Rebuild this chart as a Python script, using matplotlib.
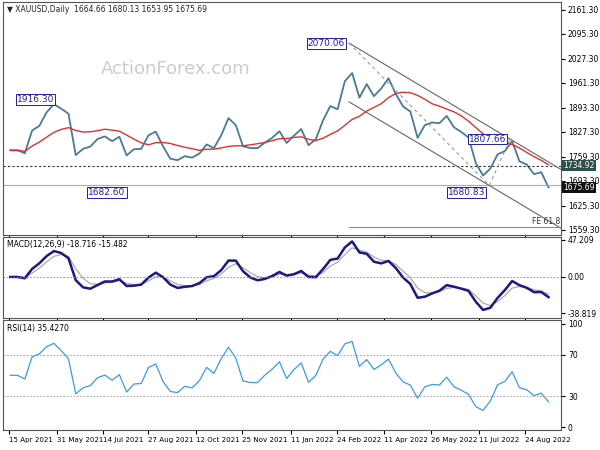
import matplotlib
matplotlib.use("Agg")
import matplotlib.pyplot as plt
import numpy as np
import pandas as pd

weeks = pd.date_range("2021-04-16", "2022-09-16", freq="W-FRI")
closes = [1777,1777,1769,1831,1844,1881,1903,1891,1877,1764,1781,1787,1808,1815,1802,1814,
          1763,1780,1781,1818,1828,1788,1754,1750,1761,1757,1768,1793,1783,1818,1865,1846,
          1788,1783,1783,1798,1811,1829,1797,1817,1835,1791,1807,1859,1898,1889,1966,1988,
          1921,1958,1925,1946,1974,1931,1897,1883,1811,1846,1853,1851,1871,1840,1827,1812,
          1742,1708,1727,1766,1775,1802,1747,1738,1712,1717,1675.69]
price_ticks = [2161.30,2095.30,2027.30,1961.30,1893.30,1827.30,1759.30,1693.30,1625.30,1559.30]
x_labels = ["15 Apr 2021","31 May 2021","14 Jul 2021","27 Aug 2021","12 Oct 2021","25 Nov 2021",
            "11 Jan 2022","24 Feb 2022","11 Apr 2022","26 May 2022","11 Jul 2022","24 Aug 2022"]
peaks = [("2021-06-01",1916.30),("2021-08-09",1682.60),("2022-03-08",2070.06),
         ("2022-07-21",1680.83),("2022-08-10",1807.66)]
level_res = 1734.92
fe618 = 1567.0

s = pd.Series(closes, index=weeks)
ma = s.rolling(11, min_periods=1).mean()
ema_f = s.ewm(span=12/5*1.6, adjust=False).mean()
ema_s = s.ewm(span=26/5*1.6, adjust=False).mean()
macd = ema_f - ema_s
sig = macd.ewm(span=9/5*1.6, adjust=False).mean()
d = s.diff().fillna(0).values
up_v, dn_v = 15.0, 15.0
rsi_vals = []
for x in d:
    up_v = up_v*5/6 + max(x, 0)/6
    dn_v = dn_v*5/6 + max(-x, 0)/6
    rsi_vals.append(100 - 100/(1 + up_v/dn_v))
rsi = pd.Series(rsi_vals, index=weeks)

FS = 5.5
fig = plt.figure(figsize=(6,4.5), dpi=100)
L, W = 0.005, 0.935
ax1 = fig.add_axes([L, 0.478, W-L, 0.518])
ax2 = fig.add_axes([L, 0.293, W-L, 0.180], sharex=ax1)
ax3 = fig.add_axes([L, 0.044, W-L, 0.244], sharex=ax1)
x0, x1 = pd.Timestamp("2021-04-09"), pd.Timestamp("2022-09-28")

ax1.plot(weeks, closes, color="#4a7a95", lw=1.3)
ax1.plot(weeks, ma, color="#e03030", lw=1)
ax1.axhline(level_res, color="#333333", ls=(0,(2,2)), lw=0.8)
ax1.axhline(1680.83, color="#aaaaaa", lw=0.8)
p0 = pd.Timestamp("2022-03-08")
ph = pd.Timestamp("2022-08-10")
lt = pd.Timestamp("2022-07-21")
slope = (1807.66-2070.06)/(ph-p0).days
def line_at(t, base_t, base_v):
    return base_v + slope*(t-base_t).days
ax1.plot([p0, x1], [2070.06, line_at(x1, p0, 2070.06)], color="#666666", lw=0.8)
ax1.plot([p0, x1], [line_at(p0, lt, 1680.83), line_at(x1, lt, 1680.83)], color="#666666", lw=0.8)
ax1.plot([p0, lt], [2070.06, 1680.83], color="#999999", ls=(0,(3,3)), lw=0.8)
ax1.plot([lt, ph], [1680.83, 1807.66], color="#999999", ls=(0,(3,3)), lw=0.8)
ax1.plot([p0, x1], [fe618, fe618], color="#888888", lw=0.8)
ax1.text(x1 - pd.Timedelta(days=1), fe618+4, "FE 61.8", ha="right", va="bottom", fontsize=FS, color="#333333")
for dt, v in peaks:
    t = pd.Timestamp(dt)
    hi = v > 1750
    ax1.annotate(f"{v:.2f}", (t, v), xytext=(-3, 0 if hi else -2), textcoords="offset points",
                 ha="right", va="center" if hi else "top", fontsize=6.5, color="#2020a0",
                 bbox=dict(boxstyle="square,pad=0.1", fc="white", ec="#2020a0", lw=0.7))
ax1.text(0.008, 0.985, "▼ XAUUSD,Daily  1664.66 1680.13 1653.95 1675.69", transform=ax1.transAxes,
         fontsize=FS, va="top", color="#222222")
ax1.text(0.31, 0.71, "ActionForex.com", transform=ax1.transAxes, fontsize=13, color="#cccccc",
         ha="center", va="center")
ax1.set_ylim(1545.7, 2183)
ax1.set_yticks(price_ticks)
ax1.set_yticklabels([f"{v:.2f}" for v in price_ticks])
for v, c in ((level_res, "#2f4f4f"), (1675.69, "#111111")):
    ax1.text(1.004, v, f"{v:.2f}", transform=ax1.get_yaxis_transform(), fontsize=FS, color="white",
             va="center", ha="left", bbox=dict(boxstyle="square,pad=0.15", fc=c, ec="none"))

ax2.plot(weeks, sig, color="#aaaaaa", lw=0.9)
ax2.plot(weeks, macd, color="#1a1a80", lw=1.8)
ax2.axhline(0, color="#888888", ls=(0,(2,2)), lw=0.6)
ax2.text(0.008, 0.97, "MACD(12,26,9) -18.716 -15.482", transform=ax2.transAxes, fontsize=FS, va="top")
lo, hi = macd.min(), macd.max()
ax2.set_ylim(lo*1.25, hi*1.12)
ax2.set_yticks([hi*1.05, 0, lo*1.1])
ax2.set_yticklabels(["47.209", "0.00", "-38.819"])

ax3.plot(weeks, rsi, color="#3a9ae8", lw=0.9)
for lv in (70, 30):
    ax3.axhline(lv, color="#999999", ls=(0,(2,2)), lw=0.6)
ax3.text(0.008, 0.97, "RSI(14) 35.4270", transform=ax3.transAxes, fontsize=FS, va="top")
ax3.set_ylim(-3, 103)
ax3.set_yticks([100, 70, 30, 0])

for ax in (ax1, ax2, ax3):
    ax.yaxis.tick_right()
    ax.tick_params(axis="y", labelsize=FS, length=3, pad=2)
    ax.tick_params(axis="x", labelsize=5.1, length=3, pad=2)
    for sp in ax.spines.values():
        sp.set_color("#555555"); sp.set_linewidth(0.8)
for ax in (ax1, ax2):
    plt.setp(ax.get_xticklabels(), visible=False)
ax3.set_xlim(x0, x1)
tick_dates = pd.to_datetime(x_labels, format="%d %b %Y")
ax3.set_xticks(tick_dates)
ax3.set_xticklabels(x_labels, ha="left")
fig.savefig("out.png", dpi=100, facecolor="white")
